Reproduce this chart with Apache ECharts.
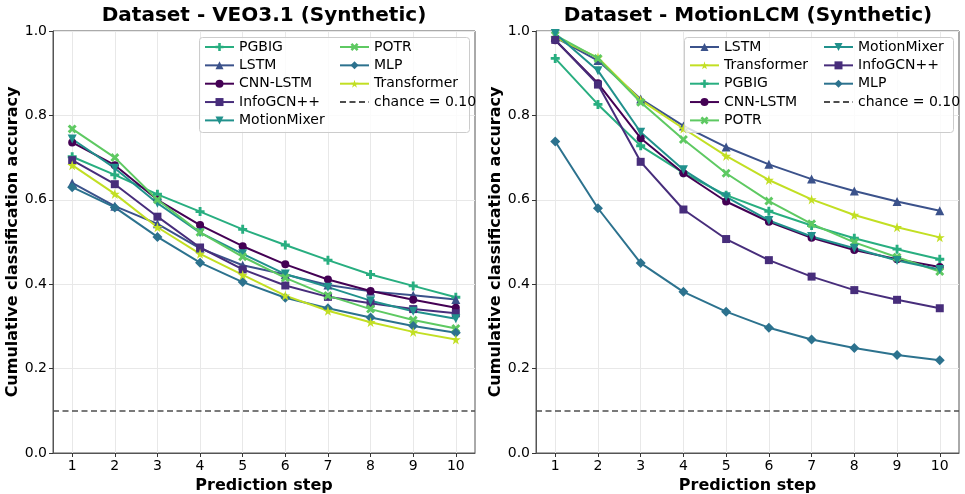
<!DOCTYPE html>
<html>
<head>
<meta charset="utf-8">
<script src="https://cdn.jsdelivr.net/npm/echarts@6/dist/echarts.min.js"></script>
<style>
html, body { margin: 0; padding: 0; background: #fff; }
#chart { width: 965px; height: 494px; }
</style>
</head>
<body>
<div id="chart"></div>
<script>
// prediction steps (x axis)
const steps = [1, 2, 3, 4, 5, 6, 7, 8, 9, 10];
const chance = 0.10;

// Dataset - VEO3.1 (Synthetic)
const veoPGBIG       = [0.702, 0.659, 0.613, 0.572, 0.530, 0.493, 0.457, 0.423, 0.396, 0.369];
const veoLSTM        = [0.640, 0.585, 0.543, 0.485, 0.445, 0.423, 0.398, 0.383, 0.374, 0.364];
const veoCNNLSTM     = [0.736, 0.682, 0.600, 0.540, 0.490, 0.447, 0.411, 0.384, 0.363, 0.344];
const veoInfoGCN     = [0.694, 0.637, 0.560, 0.487, 0.435, 0.397, 0.370, 0.355, 0.341, 0.331];
const veoMotionMixer = [0.744, 0.675, 0.592, 0.522, 0.472, 0.424, 0.393, 0.361, 0.336, 0.318];
const veoPOTR        = [0.768, 0.700, 0.600, 0.523, 0.465, 0.415, 0.373, 0.341, 0.315, 0.295];
const veoMLP         = [0.630, 0.582, 0.512, 0.451, 0.405, 0.368, 0.343, 0.321, 0.301, 0.285];
const veoTransformer = [0.682, 0.614, 0.535, 0.472, 0.422, 0.373, 0.337, 0.310, 0.287, 0.269];

// Dataset - MotionLCM (Synthetic)
const lcmLSTM        = [0.985, 0.930, 0.839, 0.775, 0.725, 0.684, 0.649, 0.621, 0.596, 0.574];
const lcmTransformer = [0.985, 0.937, 0.836, 0.769, 0.704, 0.647, 0.601, 0.564, 0.535, 0.511];
const lcmPGBIG       = [0.935, 0.826, 0.728, 0.664, 0.611, 0.573, 0.539, 0.509, 0.483, 0.459];
const lcmCNNLSTM     = [0.978, 0.876, 0.746, 0.663, 0.596, 0.548, 0.510, 0.481, 0.459, 0.441];
const lcmPOTR        = [0.990, 0.935, 0.831, 0.743, 0.663, 0.597, 0.543, 0.499, 0.464, 0.430];
const lcmMotionMixer = [0.994, 0.906, 0.760, 0.671, 0.607, 0.551, 0.513, 0.485, 0.456, 0.435];
const lcmInfoGCN     = [0.979, 0.873, 0.690, 0.577, 0.507, 0.457, 0.418, 0.386, 0.363, 0.343];
const lcmMLP         = [0.738, 0.580, 0.450, 0.382, 0.335, 0.297, 0.269, 0.249, 0.232, 0.220];

const chanceName = 'chance = 0.10';

const veoSeries = [
  ['PGBIG', veoPGBIG], ['LSTM', veoLSTM], ['CNN-LSTM', veoCNNLSTM], ['InfoGCN++', veoInfoGCN],
  ['MotionMixer', veoMotionMixer], ['POTR', veoPOTR], ['MLP', veoMLP], ['Transformer', veoTransformer]
];
const lcmSeries = [
  ['LSTM', lcmLSTM], ['Transformer', lcmTransformer], ['PGBIG', lcmPGBIG], ['CNN-LSTM', lcmCNNLSTM],
  ['POTR', lcmPOTR], ['MotionMixer', lcmMotionMixer], ['InfoGCN++', lcmInfoGCN], ['MLP', lcmMLP]
];

// viridis colours, one per model
const colors = {
  'CNN-LSTM': '#440154',
  'InfoGCN++': '#472d7b',
  'LSTM': '#3b528b',
  'MLP': '#2c728e',
  'MotionMixer': '#21918c',
  'PGBIG': '#28ae80',
  'POTR': '#5ec962',
  'Transformer': '#c2df23'
};
const markers = {
  'CNN-LSTM': ['circle', 8],
  'InfoGCN++': ['rect', 8],
  'LSTM': ['triangle', 9],
  'MLP': ['diamond', 10],
  'MotionMixer': ['path://M0,0L10,0L5,9Z', 9],
  'PGBIG': ['path://M3.4,0H6.6V3.4H10V6.6H6.6V10H3.4V6.6H0V3.4H3.4Z', 9],
  'POTR': ['path://M2.3,0L5,2.7L7.7,0L10,2.3L7.3,5L10,7.7L7.7,10L5,7.3L2.3,10L0,7.7L2.7,5L0,2.3Z', 9],
  'Transformer': ['path://M50,0L61,35H98L68,57L79,91L50,70L21,91L32,57L2,35H39Z', 10]
};

const font = 'DejaVu Sans';

function modelSeries(list, gi) {
  return list.map(function (item) {
    const name = item[0], vals = item[1];
    return {
      name: name,
      type: 'line',
      xAxisIndex: gi,
      yAxisIndex: gi,
      data: steps.map(function (s, i) { return [s, vals[i]]; }),
      symbol: markers[name][0],
      symbolSize: markers[name][1],
      showAllSymbol: true,
      lineStyle: { width: 2, color: colors[name] },
      itemStyle: { color: colors[name] },
      emphasis: { disabled: true },
      animation: false
    };
  });
}

function chanceSeries(gi) {
  return {
    name: chanceName,
    type: 'line',
    xAxisIndex: gi,
    yAxisIndex: gi,
    data: [],
    symbol: 'circle',
    lineStyle: { width: 1.5, color: '#4d4d4d', type: [6, 3.5] },
    itemStyle: { color: '#4d4d4d' },
    markLine: {
      silent: true,
      symbol: 'none',
      label: { show: false },
      lineStyle: { width: 1.5, color: '#4d4d4d', type: [6, 3.5] },
      data: [{ yAxis: chance }]
    },
    animation: false
  };
}

function legendCol(names, left) {
  return {
    data: names.map(function (n) {
      if (n === chanceName) {
        return { name: n, itemStyle: { color: 'rgba(0,0,0,0)', borderColor: 'rgba(0,0,0,0)' } };
      }
      return n;
    }),
    orient: 'vertical',
    left: left,
    top: 40,
    padding: 0,
    itemWidth: 29,
    itemHeight: 10,
    itemGap: 4.35,
    selectedMode: false,
    z: 10,
    textStyle: { fontFamily: font, fontSize: 14, color: '#000', lineHeight: 14 }
  };
}

function xAxisOf(gi) {
  return {
    type: 'value',
    gridIndex: gi,
    min: 0.55,
    max: 10.45,
    name: 'Prediction step',
    nameLocation: 'middle',
    nameGap: 23,
    nameTextStyle: { fontFamily: font, fontSize: 16, fontWeight: 'bold', color: '#000', verticalAlign: 'top' },
    axisLine: { show: true, lineStyle: { color: '#555', width: 1 } },
    axisTick: { show: true, customValues: steps, length: 4, lineStyle: { color: '#333' } },
    axisLabel: { customValues: steps, fontFamily: font, fontSize: 14, color: '#000', margin: 6 },
    splitLine: { show: true, lineStyle: { color: '#e8e8e8', width: 1 } }
  };
}

function yAxisOf(gi) {
  return {
    type: 'value',
    gridIndex: gi,
    min: 0,
    max: 1,
    interval: 0.2,
    name: 'Cumulative classification accuracy',
    nameLocation: 'middle',
    nameGap: 30,
    nameTextStyle: { fontFamily: font, fontSize: 16, fontWeight: 'bold', color: '#000' },
    axisLine: { show: true, lineStyle: { color: '#555', width: 1 } },
    axisTick: { show: true, length: 4, lineStyle: { color: '#333' } },
    axisLabel: { fontFamily: font, fontSize: 14, color: '#000', margin: 6,
      formatter: function (v) { return v.toFixed(1); } },
    splitLine: { show: true, lineStyle: { color: '#e8e8e8', width: 1 } }
  };
}

const chart = echarts.init(document.getElementById('chart'), null, { renderer: 'canvas' });

chart.setOption({
  backgroundColor: '#fff',
  animation: false,
  title: [
    { text: 'Dataset - VEO3.1 (Synthetic)', left: 264, top: 6, padding: 0, textAlign: 'center',
      textStyle: { fontFamily: font, fontSize: 20, fontWeight: 'bold', color: '#000' } },
    { text: 'Dataset - MotionLCM (Synthetic)', left: 748, top: 6, padding: 0, textAlign: 'center',
      textStyle: { fontFamily: font, fontSize: 20, fontWeight: 'bold', color: '#000' } }
  ],
  grid: [
    { left: 53, right: 490, top: 31, bottom: 41, show: true, borderColor: '#555', borderWidth: 1,
      containLabel: false, outerBoundsMode: 'none' },
    { left: 536, right: 6, top: 31, bottom: 41, show: true, borderColor: '#555', borderWidth: 1,
      containLabel: false, outerBoundsMode: 'none' }
  ],
  xAxis: [xAxisOf(0), xAxisOf(1)],
  yAxis: [yAxisOf(0), yAxisOf(1)],
  legend: [
    legendCol(veoSeries.slice(0, 5).map(function (d) { return d[0]; }), 204),
    legendCol(veoSeries.slice(5).map(function (d) { return d[0]; }).concat([chanceName]), 339),
    legendCol(lcmSeries.slice(0, 5).map(function (d) { return d[0]; }), 689),
    legendCol(lcmSeries.slice(5).map(function (d) { return d[0]; }).concat([chanceName]), 823)
  ],
  graphic: [
    { type: 'rect', z: 5, shape: { x: 199.5, y: 37.5, width: 270, height: 95, r: 3 },
      style: { fill: 'rgba(255,255,255,0.8)', stroke: '#cccccc', lineWidth: 1 } },
    { type: 'rect', z: 5, shape: { x: 684.5, y: 37.5, width: 269, height: 95, r: 3 },
      style: { fill: 'rgba(255,255,255,0.8)', stroke: '#cccccc', lineWidth: 1 } }
  ],
  series: modelSeries(veoSeries, 0).concat([chanceSeries(0)])
    .concat(modelSeries(lcmSeries, 1)).concat([chanceSeries(1)])
});
</script>
</body>
</html>
